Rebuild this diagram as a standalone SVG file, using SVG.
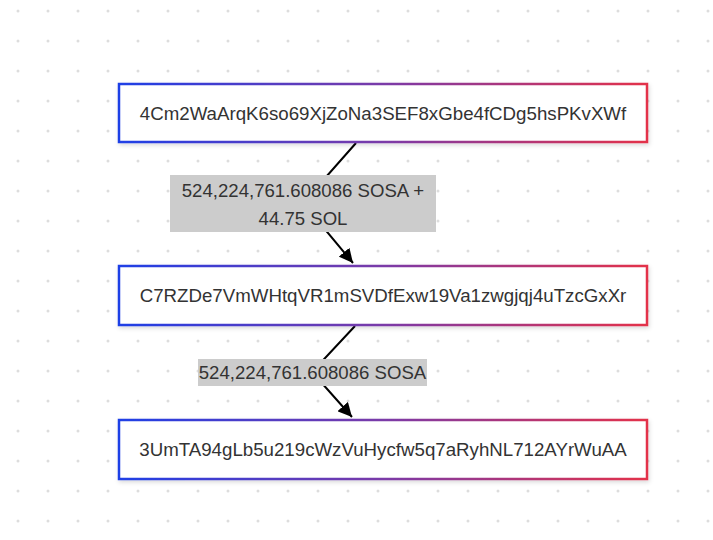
<svg xmlns="http://www.w3.org/2000/svg" width="713" height="540" viewBox="0 0 713 540">
  <defs>
    <pattern id="dots" x="0" y="0" width="30" height="30" patternUnits="userSpaceOnUse">
      <circle cx="18" cy="11" r="1.5" fill="#dddddd"/>
    </pattern>
    <linearGradient id="border" x1="0" y1="0" x2="1" y2="0">
      <stop offset="0" stop-color="#1f3fe6"/>
      <stop offset="0.5" stop-color="#7a3aa8"/>
      <stop offset="1" stop-color="#e3314a"/>
    </linearGradient>
    <filter id="shadow" x="-5%" y="-20%" width="110%" height="150%">
      <feDropShadow dx="1" dy="2" stdDeviation="2" flood-color="#000" flood-opacity="0.15"/>
    </filter>
    <marker id="arrow" viewBox="0 0 14 14" refX="14" refY="7" markerWidth="14" markerHeight="14" markerUnits="userSpaceOnUse" orient="auto">
      <path d="M0,0 L14,7 L0,14 z" fill="#000"/>
    </marker>
  </defs>
  <style>
    .node rect { fill: #ffffff; stroke: url(#border); stroke-width: 2.5; filter: url(#shadow); }
    .node text { font-family: "Liberation Sans", Arial, sans-serif; font-size: 18.7px; fill: #333333; text-anchor: middle; dominant-baseline: central; }
    .edge { fill: none; stroke: #000000; stroke-width: 2; }
    .label rect { fill: #cccccc; }
    .label text { font-family: "Liberation Sans", Arial, sans-serif; font-size: 18.6px; fill: #333333; text-anchor: middle; dominant-baseline: central; }
  </style>
  <rect width="713" height="540" fill="#ffffff"/>
  <rect width="713" height="540" fill="url(#dots)"/>
  <g id="connectors">
    <path class="edge" d="M356,143 L303,203 L353,263" marker-end="url(#arrow)"/>
    <path class="edge" d="M355,326 L312,372 L352,417" marker-end="url(#arrow)"/>
    <g class="label" id="label1">
      <rect x="170" y="175" width="266" height="57"/>
      <text x="303" y="190">524,224,761.608086 SOSA +</text>
      <text x="303" y="218.5">44.75 SOL</text>
    </g>
    <g class="label" id="label2">
      <rect x="198" y="359" width="229" height="27"/>
      <text x="312.5" y="372">524,224,761.608086 SOSA</text>
    </g>
  </g>
  <g id="node1" class="node">
    <rect x="119" y="84" width="528" height="58"/>
    <text x="383" y="113">4Cm2WaArqK6so69XjZoNa3SEF8xGbe4fCDg5hsPKvXWf</text>
  </g>
  <g id="node2" class="node">
    <rect x="119" y="266" width="528" height="59"/>
    <text x="383" y="295.5">C7RZDe7VmWHtqVR1mSVDfExw19Va1zwgjqj4uTzcGxXr</text>
  </g>
  <g id="node3" class="node">
    <rect x="119" y="420" width="528" height="59"/>
    <text x="383" y="449.5">3UmTA94gLb5u219cWzVuHycfw5q7aRyhNL712AYrWuAA</text>
  </g>
</svg>
